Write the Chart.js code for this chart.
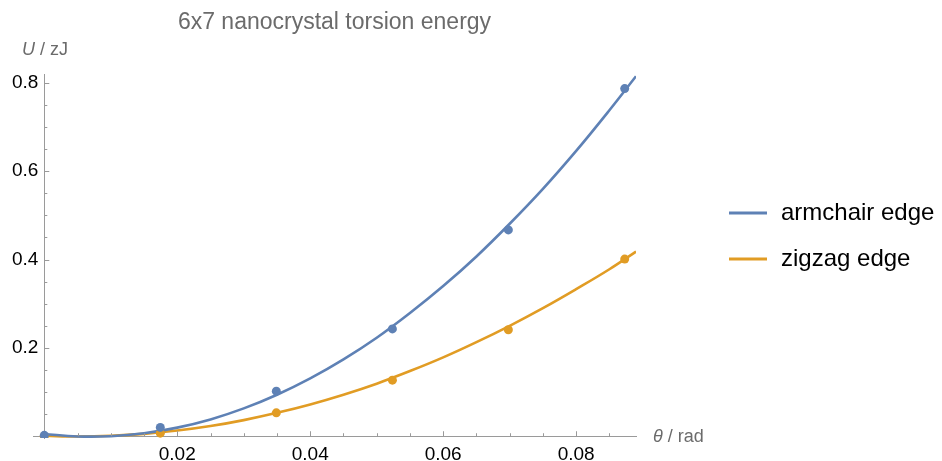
<!DOCTYPE html>
<html>
<head>
<meta charset="utf-8">
<script src="https://cdn.jsdelivr.net/npm/chart.js@4/dist/chart.umd.min.js"></script>
<style>
  html, body { margin: 0; padding: 0; background: #fff; }
</style>
</head>
<body>
<canvas id="torsionChart" width="942" height="461"></canvas>
<script>
// measured points (theta in rad, U in zJ)
var thetaPoints = [0, 0.01745, 0.0349, 0.05236, 0.0698, 0.0873];
var armchairPoints = [0.002, 0.020, 0.102, 0.243, 0.467, 0.787];
var zigzagPoints = [0.0, 0.007, 0.053, 0.127, 0.241, 0.401];

// fitted curves
var thetaCurve = [0, 0.005, 0.01, 0.015, 0.02, 0.025, 0.03, 0.035, 0.04, 0.045, 0.05, 0.055, 0.06, 0.065, 0.07, 0.075, 0.08, 0.085, 0.089];
var armchairCurve = [0.005, -0.0005, 0.0001, 0.0068, 0.0195, 0.038, 0.063, 0.094, 0.131, 0.174, 0.223, 0.279, 0.340, 0.407, 0.481, 0.560, 0.646, 0.738, 0.815];
var zigzagCurve = [0.001, -0.0005, 0.001, 0.0054, 0.0128, 0.023, 0.0365, 0.053, 0.072, 0.094, 0.119, 0.1475, 0.1785, 0.213, 0.250, 0.290, 0.333, 0.378, 0.418];

var seriesNames = ["armchair edge", "zigzag edge"];
var xTicks = [0.02, 0.04, 0.06, 0.08];
var yTicks = [0.2, 0.4, 0.6, 0.8];
var xMinorTicks = [0.005, 0.01, 0.015, 0.025, 0.03, 0.035, 0.045, 0.05, 0.055, 0.065, 0.07, 0.075, 0.085];
var yMinorTicks = [0.05, 0.1, 0.15, 0.25, 0.3, 0.35, 0.45, 0.5, 0.55, 0.65, 0.7, 0.75];

var blue = "#5E81B5";
var orange = "#E19C24";
var axisGray = "#9a9a9a";
var FONT = "'Liberation Sans', Arial, sans-serif";

function toXY(xs, ys) {
    return xs.map(function(x, i) { return {x: x, y: ys[i]}; });
}

var decorations = {
    id: "decorations",
    afterDraw: function(chart) {
        var ctx = chart.ctx;
        var xs = chart.scales.x, ys = chart.scales.y;
        var x0 = xs.getPixelForValue(0), y0 = ys.getPixelForValue(0);
        ctx.save();
        // tick marks pointing into the plot
        ctx.strokeStyle = axisGray;
        ctx.lineWidth = 1;
        ctx.beginPath();
        xTicks.forEach(function(v) { var p = Math.round(xs.getPixelForValue(v)) + 0.5; ctx.moveTo(p, y0); ctx.lineTo(p, y0 - 5); });
        xMinorTicks.forEach(function(v) { var p = Math.round(xs.getPixelForValue(v)) + 0.5; ctx.moveTo(p, y0); ctx.lineTo(p, y0 - 3); });
        yTicks.forEach(function(v) { var p = Math.round(ys.getPixelForValue(v)) + 0.5; ctx.moveTo(x0, p); ctx.lineTo(x0 + 5, p); });
        yMinorTicks.forEach(function(v) { var p = Math.round(ys.getPixelForValue(v)) + 0.5; ctx.moveTo(x0, p); ctx.lineTo(x0 + 3, p); });
        ctx.stroke();

        // title
        ctx.fillStyle = "#6b6b6b";
        ctx.font = "23px " + FONT;
        ctx.textAlign = "center";
        ctx.textBaseline = "middle";
        ctx.fillText("6x7 nanocrystal torsion energy", (chart.chartArea.left + chart.chartArea.right) / 2, 23);

        // axis labels
        ctx.textAlign = "left";
        ctx.font = "italic 18px " + FONT;
        ctx.fillText("U", 22, 50);
        var w = ctx.measureText("U").width;
        ctx.font = "18px " + FONT;
        ctx.fillText(" / zJ", 22 + w, 50);

        ctx.font = "italic 18px " + FONT;
        ctx.fillText("\u03b8", 653, 437);
        w = ctx.measureText("\u03b8").width;
        ctx.font = "18px " + FONT;
        ctx.fillText(" / rad", 653 + w, 437);

        // legend
        var rows = [213, 259];
        var curves = chart.data.datasets.filter(function(d) { return d.showLine; });
        curves.forEach(function(d, i) {
            ctx.strokeStyle = d.borderColor;
            ctx.lineWidth = 3;
            ctx.beginPath();
            ctx.moveTo(729, rows[i]);
            ctx.lineTo(767, rows[i]);
            ctx.stroke();
            ctx.fillStyle = "#000";
            ctx.font = "24px " + FONT;
            ctx.fillText(d.label, 781, rows[i]);
        });
        ctx.restore();
    }
};

var ctx = document.getElementById("torsionChart").getContext("2d");
var chart = new Chart(ctx, {
    type: "scatter",
    data: {
        datasets: [
            { label: seriesNames[0] + " data", data: toXY(thetaPoints, armchairPoints), showLine: false,
              pointRadius: 4.5, pointBackgroundColor: blue, pointBorderWidth: 0, order: 0 },
            { label: seriesNames[1] + " data", data: toXY(thetaPoints, zigzagPoints), showLine: false,
              pointRadius: 4.5, pointBackgroundColor: orange, pointBorderWidth: 0, order: 0 },
            { label: seriesNames[0], data: toXY(thetaCurve, armchairCurve), showLine: true,
              borderColor: blue, borderWidth: 2.6, pointRadius: 0, tension: 0.4, order: 1 },
            { label: seriesNames[1], data: toXY(thetaCurve, zigzagCurve), showLine: true,
              borderColor: orange, borderWidth: 2.6, pointRadius: 0, tension: 0.4, order: 1 }
        ]
    },
    options: {
        responsive: false,
        animation: false,
        layout: { padding: { left: 33, right: 306, top: 74, bottom: 23 } },
        plugins: { legend: { display: false }, tooltip: { enabled: false } },
        scales: {
            x: {
                type: "linear",
                min: -0.0017,
                max: 0.089,
                position: { y: 0 },
                grid: { display: false, drawTicks: false },
                border: { display: true, color: axisGray, width: 1 },
                afterBuildTicks: function(scale) { scale.ticks = xTicks.map(function(v) { return {value: v}; }); },
                ticks: { color: "#000", font: { family: FONT, size: 19 }, padding: 7,
                         maxRotation: 0, callback: function(v) { return v.toFixed(2); } }
            },
            y: {
                type: "linear",
                min: -0.004,
                max: 0.82,
                position: { x: 0 },
                grid: { display: false, drawTicks: false },
                border: { display: true, color: axisGray, width: 1 },
                ticks: { display: false }
            },
            // same range as y, only carries the tick labels just left of the axis line
            yLabels: {
                type: "linear",
                axis: "y",
                min: -0.004,
                max: 0.82,
                position: { x: -0.0009 },
                grid: { display: false, drawTicks: false },
                border: { display: false },
                afterBuildTicks: function(scale) { scale.ticks = yTicks.map(function(v) { return {value: v}; }); },
                ticks: { color: "#000", font: { family: FONT, size: 19 },
                         callback: function(v) { return v.toFixed(1); } }
            }
        }
    },
    plugins: [decorations]
});
</script>
</body>
</html>
